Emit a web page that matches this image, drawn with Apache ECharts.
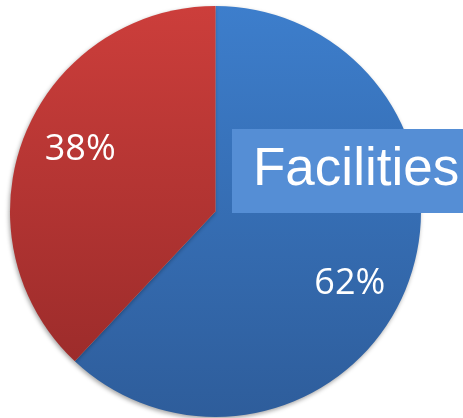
<!DOCTYPE html>
<html>
<head>
<meta charset="utf-8">
<script src="https://cdn.jsdelivr.net/npm/echarts@6/dist/echarts.min.js"></script>
<style>
  html, body { margin: 0; padding: 0; background: #fff; }
  #chart { width: 463px; height: 418px; }
</style>
</head>
<body>
<div id="chart"></div>
<script>
// data
const categories = ['Facilities', 'Other']
const values = [62, 38]
const titleText = 'Facilities'

const colorList = [
  ['#3d7ecc', '#2e5d9b'],
  ['#cc3e3b', '#9d2c2b'],
]
// nudge the inside labels out toward the rim
const labelOffsets = [[36, 33], [-37, -23]]

const chart = echarts.init(document.getElementById('chart'))

const options = {
  backgroundColor: '#fff',
  animation: false,
  title: {
    text: titleText,
    left: 232,
    top: 129,
    backgroundColor: '#558ed5',
    padding: [15, 30, 16, 21],
    textStyle: {
      color: '#fff',
      fontFamily: 'Liberation Sans, Arial, sans-serif',
      fontSize: 53,
      fontWeight: 'normal',
      lineHeight: 53,
    },
  },
  series: [
    {
      type: 'pie',
      center: [215.5, 211.5],
      radius: 205.5,
      startAngle: 90,
      clockwise: true,
      silent: true,
      data: categories.map((name, i) => ({
        name: name,
        value: values[i],
        itemStyle: {
          color: new echarts.graphic.LinearGradient(0, 0, 0, 1, [
            { offset: 0, color: colorList[i][0] },
            { offset: 1, color: colorList[i][1] },
          ]),
        },
        label: { offset: labelOffsets[i] },
      })),
      itemStyle: {
        borderWidth: 0,
        shadowColor: 'rgba(0,0,0,0.35)',
        shadowBlur: 4,
        shadowOffsetX: -1,
        shadowOffsetY: 2,
      },
      label: {
        show: true,
        position: 'inside',
        formatter: (p) => p.value + '%',
        color: '#fff',
        fontFamily: 'Open Sans, Noto Sans, sans-serif',
        fontSize: 36,
      },
      labelLine: { show: false },
    },
  ],
}

chart.setOption(options)
</script>
</body>
</html>
